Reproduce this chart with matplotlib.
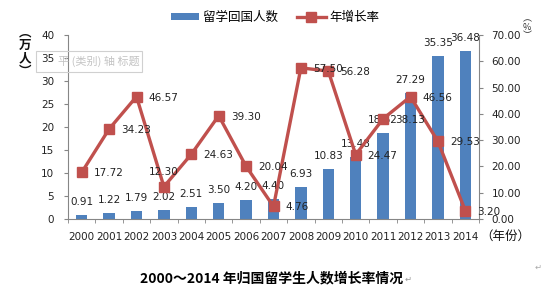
import matplotlib
matplotlib.use("Agg")
import matplotlib.pyplot as plt
from matplotlib.patches import FancyBboxPatch
import numpy as np

plt.rcParams['font.family'] = ['DejaVu Sans', 'Noto Sans CJK SC']
CJK = ['Noto Sans CJK SC', 'DejaVu Sans']

years = ['2000', '2001', '2002', '2003', '2004', '2005', '2006', '2007',
         '2008', '2009', '2010', '2011', '2012', '2013', '2014']
returnees = [0.91, 1.22, 1.79, 2.02, 2.51, 3.50, 4.20, 4.40,
             6.93, 10.83, 13.48, 18.62, 27.29, 35.35, 36.48]
growth = [17.72, 34.23, 46.57, 12.30, 24.63, 39.30, 20.04, 4.76,
          57.50, 56.28, 24.47, 38.13, 46.56, 29.53, 3.20]
left_ticks = [0, 5, 10, 15, 20, 25, 30, 35, 40]
right_ticks = [0, 10, 20, 30, 40, 50, 60, 70]

bar_color = '#4F81BD'
line_color = '#C0504D'
axis_color = '#868686'
txt_color = '#222222'

fig = plt.figure(figsize=(5.5, 2.93), dpi=100)
ax = fig.add_axes([68/550, 1-219/293, (479-68)/550, (219-35)/293])
x = np.arange(len(years))

ax.bar(x, returnees, width=0.42, color=bar_color, zorder=2, label='留学回国人数')
ax.set_xlim(-0.5, len(years) - 0.5)
ax.set_ylim(0, 40)
ax.set_yticks(left_ticks)
ax.set_xticks(x)
ax.set_xticklabels(years)
ax.set_xticks(np.arange(-0.5, len(years)), minor=True)
ax.tick_params(axis='x', which='major', length=0, pad=9, labelsize=7.5, labelcolor=txt_color)
ax.tick_params(axis='x', which='minor', length=3, color=axis_color, direction='out')
ax.tick_params(axis='y', length=3, color=axis_color, pad=7, labelsize=7.5, labelcolor=txt_color)
for s in ['top', 'right']:
    ax.spines[s].set_visible(False)
for s in ['left', 'bottom']:
    ax.spines[s].set_color(axis_color)

for xi, v in zip(x, returnees):
    ax.annotate(f'{v:.2f}', (xi, v), xytext=(0, 13), textcoords='offset pixels',
                ha='center', va='center', fontsize=7.5, color=txt_color, zorder=3)

ax2 = ax.twinx()
ax2.plot(x, growth, color=line_color, lw=2.4, marker='s', markersize=7,
         markerfacecolor=line_color, markeredgecolor=line_color, label='年增长率', zorder=4)
ax2.set_ylim(0, 70)
ax2.set_yticks(right_ticks)
ax2.set_yticklabels([f'{t:.2f}' for t in right_ticks])
ax2.tick_params(axis='y', length=3, color=axis_color, pad=6, labelsize=7.5, labelcolor=txt_color)
for s in ['top', 'left', 'bottom']:
    ax2.spines[s].set_visible(False)
ax2.spines['right'].set_color(axis_color)

for xi, v in zip(x, growth):
    if years[xi] == '2003':
        ax2.annotate(f'{v:.2f}', (xi, v), xytext=(0, 15), textcoords='offset pixels',
                     ha='center', va='center', fontsize=7.5, color=txt_color, zorder=5)
    else:
        ax2.annotate(f'{v:.2f}', (xi, v), xytext=(12, -1), textcoords='offset pixels',
                     ha='left', va='center', fontsize=7.5, color=txt_color, zorder=5)

# legend
h1, l1 = ax.get_legend_handles_labels()
h2, l2 = ax2.get_legend_handles_labels()
fig.legend(h1 + h2, l1 + l2, loc='center', bbox_to_anchor=(0.5, 1-17/293), ncol=2,
           frameon=False, prop={'family': CJK, 'size': 9}, handlelength=2.3,
           handleheight=0.5, columnspacing=1.5, handletextpad=0.3)

# axis titles
fig.text(25/550, 1-52/293, '︵\n万\n人\n︶', family=CJK, fontsize=9, ha='center',
         va='center', linespacing=1.0, color='#111111', fontweight='bold')
fig.text(527/550, 1-27/293, '︵\n%\n︶', family=CJK, fontsize=6.5, ha='center',
         va='center', linespacing=0.9, color='#333333')
fig.text(480/550, 1-236/293, '（年份）', family=CJK, fontsize=9, ha='left',
         va='center', color='#111111')

# ghost axis-title box
box = FancyBboxPatch((36/550, 1-72/293), (142-36)/550, (72-51)/293,
                     boxstyle='square,pad=0', transform=fig.transFigure,
                     facecolor='none', edgecolor='#d0d0d0', lw=0.8, zorder=0)
fig.patches.append(box)
fig.text(58/550, 1-61/293, '平 (类别) 轴 标题', family=CJK, fontsize=8,
         ha='left', va='center', color='#c4c4c4')

# caption
fig.text(272/550, 1-278/293, '2000～2014 年归国留学生人数增长率情况', family=CJK,
         fontsize=10, fontweight='bold', ha='center', va='center', color='#000000')
fig.text(408/550, 1-279/293, '↵', fontsize=6, ha='center', va='center', color='#999999')
fig.text(538/550, 1-267/293, '↵', fontsize=6, ha='center', va='center', color='#aaaaaa')

fig.savefig('out.png', dpi=100)
